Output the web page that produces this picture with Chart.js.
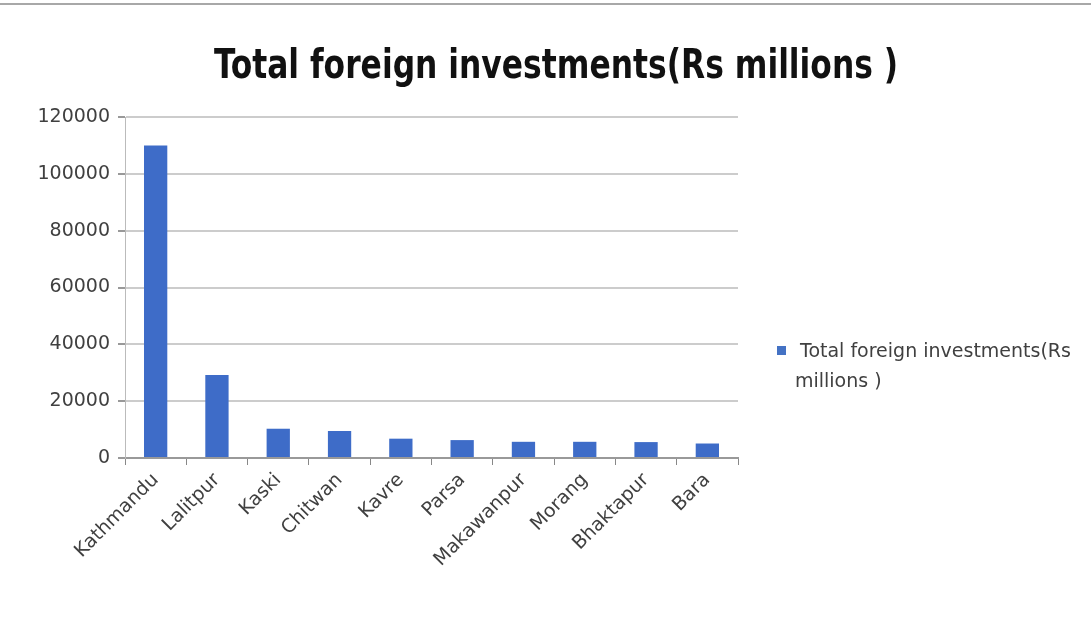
<!DOCTYPE html>
<html>
<head>
<meta charset="utf-8">
<script src="https://cdn.jsdelivr.net/npm/chart.js@4.4.1/dist/chart.umd.min.js"></script>
<style>
    html, body { margin: 0; padding: 0; background: #fff; }
    #wrap { position: relative; width: 1091px; height: 633px; overflow: hidden; }
    #topline { position: absolute; left: 0; top: 3px; width: 1091px; height: 2px; background: #a8a8a8; }
    #legend {
        position: absolute; left: 777px; top: 335px; width: 312px;
        font-family: "DejaVu Sans", sans-serif; font-size: 19px; line-height: 30px; color: #404040;
    }
    #legend .box {
        display: inline-block; width: 9px; height: 9px; background: #4472C4;
        margin-right: 14px; vertical-align: 2px;
    }
    #legend .line2 { padding-left: 18px; }
</style>
</head>
<body>
<div id="wrap">
    <div id="topline"></div>
    <canvas id="chart" width="1091" height="633"></canvas>
    <div id="legend">
        <div><span class="box"></span>Total foreign investments(Rs</div>
        <div class="line2">millions )</div>
    </div>
</div>
<script>
// Districts and investment totals (Rs millions)
const districts = ['Kathmandu', 'Lalitpur', 'Kaski', 'Chitwan', 'Kavre', 'Parsa', 'Makawanpur', 'Morang', 'Bhaktapur', 'Bara'];
const investments = [110000, 29200, 10300, 9500, 6800, 6300, 5700, 5700, 5600, 5100];
const seriesName = 'Total foreign investments(Rs millions )';
const chartTitle = 'Total foreign investments(Rs millions )';

const axisFont = { family: '"DejaVu Sans", sans-serif', size: 19 };

// title is centred over the whole canvas, not just the plot area
const titlePlugin = {
    id: 'pageTitle',
    afterDraw(chart) {
        const c = chart.ctx;
        c.save();
        c.translate(556, 78);
        c.scale(0.85, 1);   // squeeze a little to get the condensed look
        c.font = 'bold 41px "Liberation Sans Narrow", "DejaVu Sans Condensed", sans-serif';
        c.fillStyle = '#111';
        c.textAlign = 'center';
        c.textBaseline = 'alphabetic';
        c.fillText(chartTitle, 0, 0);
        c.restore();
    }
};

const ctx = document.getElementById('chart').getContext('2d');
new Chart(ctx, {
    type: 'bar',
    data: {
        labels: districts,
        datasets: [{
            label: seriesName,
            data: investments,
            backgroundColor: '#3e6cc8',
            categoryPercentage: 1,
            barPercentage: 0.38
        }]
    },
    plugins: [titlePlugin],
    options: {
        responsive: false,
        animation: false,
        layout: { padding: { left: 22, right: 353, top: 117, bottom: 0 } },
        plugins: {
            legend: { display: false },
            tooltip: { enabled: false }
        },
        scales: {
            x: {
                grid: { drawOnChartArea: false, tickLength: 7, color: '#888', lineWidth: 1 },
                border: { color: '#999', width: 2 },
                ticks: {
                    color: '#404040',
                    font: axisFont,
                    maxRotation: 45,
                    minRotation: 45,
                    padding: 4
                },
                afterFit: (scale) => { scale.height = 175; }
            },
            y: {
                min: 0,
                max: 120000,
                ticks: {
                    stepSize: 20000,
                    color: '#404040',
                    font: axisFont,
                    padding: 8,
                    callback: (v) => String(v)
                },
                grid: { color: '#cccccc', lineWidth: 2, tickLength: 7, tickColor: '#999' },
                border: { color: '#bbb', width: 1 },
                afterFit: (scale) => { scale.width = 103; }
            }
        }
    }
});
</script>
</body>
</html>
